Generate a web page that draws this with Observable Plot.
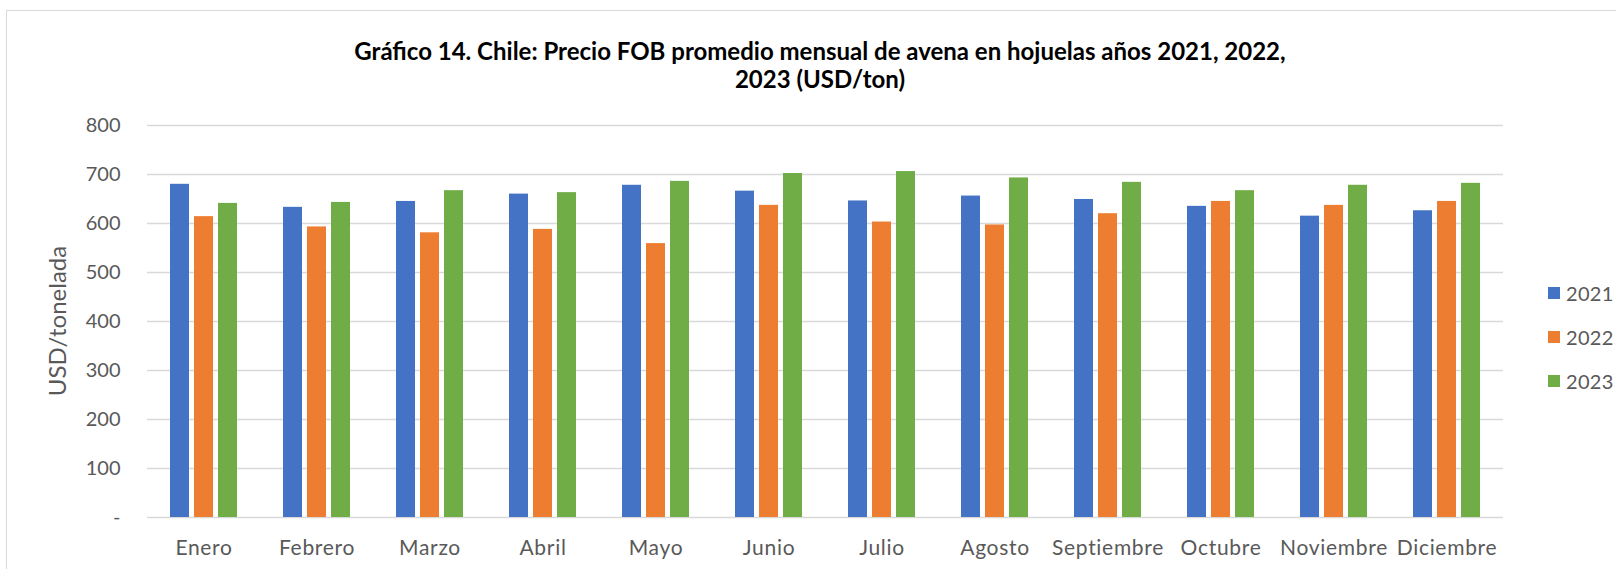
<!DOCTYPE html>
<html>
<head>
<meta charset="utf-8">
<script src="https://cdn.jsdelivr.net/npm/d3@7"></script>
<script src="https://cdn.jsdelivr.net/npm/@observablehq/plot@0.6"></script>
<style>
  html, body { margin: 0; padding: 0; background: #fff; overflow: hidden; }
  #wrap { position: relative; width: 1616px; height: 569px; overflow: hidden; font-family: Lato, "Noto Sans", sans-serif; }
  #frame { position: absolute; left: 6px; top: 10px; width: 1700px; height: 700px; border: 1.5px solid #d9d9d9; box-sizing: border-box; }
  #title { position: absolute; left: 120px; width: 1400px; top: 37px; text-align: center; font-weight: 700; font-size: 24px; line-height: 28px; color: #000; }
  #ylabel { position: absolute; left: 56px; top: 321px; transform: translate(-50%, -50%) rotate(-90deg); white-space: nowrap; font-size: 24px; color: #595959; }
  #legend { position: absolute; left: 1548px; top: 271px; font-size: 20px; color: #595959; letter-spacing: 0.3px; }
  .li { display: flex; align-items: center; height: 44px; }
  .sw { width: 12px; height: 12px; margin-right: 6px; }
  #chart { position: absolute; left: 0; top: 0; }
  #chart svg g[aria-label="fx-axis tick label"] text { letter-spacing: 0.7px; }
</style>
</head>
<body>
<div id="wrap">
  <div id="frame"></div>
  <div id="chart"></div>
  <div id="title">Gráfico 14. Chile: Precio FOB promedio mensual de avena en hojuelas años 2021, 2022,<br>2023 (USD/ton)</div>
  <div id="ylabel">USD/tonelada</div>
  <div id="legend"></div>
</div>
<script>
const months = ["Enero","Febrero","Marzo","Abril","Mayo","Junio","Julio","Agosto","Septiembre","Octubre","Noviembre","Diciembre"];
const years = ["2021","2022","2023"];
const v2021 = [680,633,645,660,678,666,646,656,649,635,615,626];
const v2022 = [614,593,581,588,559,637,603,597,620,645,637,645];
const v2023 = [641,643,667,663,686,702,706,693,684,667,678,682];
const colors = ["#4472C4","#ED7D31","#70AD47"];
const yTicks = [0,100,200,300,400,500,600,700,800];

const series = [v2021, v2022, v2023];
const data = [];
months.forEach((m, i) => years.forEach((y, j) => data.push({month: m, year: y, value: series[j][i]})));

const chart = Plot.plot({
  width: 1616, height: 569,
  marginLeft: 147, marginRight: 113, marginTop: 125, marginBottom: 52,
  style: {fontFamily: "Lato, 'Noto Sans', sans-serif", fontSize: "20px", color: "#595959", background: "transparent", overflow: "visible"},
  fx: {domain: months, padding: 0, label: null, tickSize: 0, tickPadding: 23, axis: "bottom"},
  x: {domain: years, paddingInner: 0.22, paddingOuter: 0.875, axis: null},
  y: {domain: [0, 800], ticks: yTicks, tickFormat: d => d === 0 ? "-" : String(d), tickSize: 0, tickPadding: 27, label: null},
  color: {domain: years, range: colors},
  marks: [
    Plot.ruleY(yTicks, {stroke: "#d9d9d9", strokeWidth: 1.5}),
    Plot.barY(data, {fx: "month", x: "year", y: "value", fill: "year"})
  ]
});
document.getElementById("chart").appendChild(chart);
d3.select(chart).selectAll("g[aria-label='fx-axis tick label'] text").style("font-size", "21px").style("letter-spacing", "0.7px");

const legend = document.getElementById("legend");
years.forEach((y, i) => {
  const row = document.createElement("div");
  row.className = "li";
  const sw = document.createElement("div");
  sw.className = "sw";
  sw.style.background = colors[i];
  const t = document.createElement("span");
  t.textContent = y;
  row.appendChild(sw); row.appendChild(t);
  legend.appendChild(row);
});
</script>
</body>
</html>
